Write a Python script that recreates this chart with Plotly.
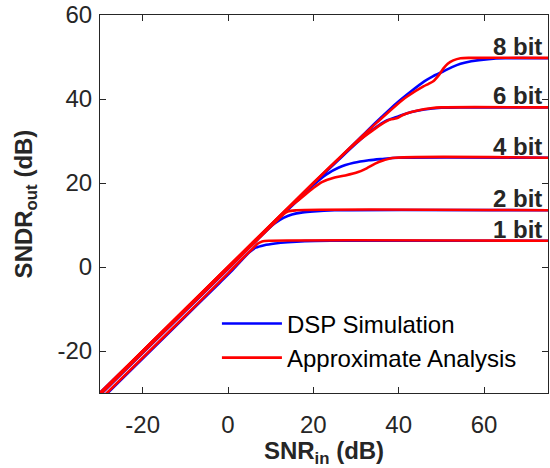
import plotly.graph_objects as go

# ---------------- data ----------------
dsp_1bit_x = [-30, -10, -2, 1, 3, 5, 6.5, 8.5, 11, 14, 18, 24, 75]
dsp_1bit_y = [-31.8, -11.8, -3.8, -0.8, 1.4, 3.5, 4.6, 5.2, 5.6, 5.9, 6.15, 6.26, 6.26]
apx_1bit_x = [-30, -10, 0, 3, 5, 6, 7, 8, 10, 75]
apx_1bit_y = [-31.6, -11.6, -1.5, 1.6, 3.6, 4.6, 5.6, 6.1, 6.26, 6.26]

dsp_2bit_x = [-30, -10, 0, 5, 7, 9, 11, 13, 15, 17.5, 20, 25, 75]
dsp_2bit_y = [-30.5, -10.5, -0.5, 4.6, 6.6, 8.6, 10.4, 11.7, 12.5, 13.0, 13.25, 13.5, 13.5]
apx_2bit_x = [-30, -10, 0, 5, 9, 11, 12.5, 14, 16, 75]
apx_2bit_y = [-30.4, -10.4, -0.4, 4.6, 8.6, 10.6, 12.1, 13.2, 13.5, 13.5]

dsp_4bit_x = [-30, 0, 10, 14, 17, 20, 23, 26, 29.5, 33, 36, 40, 75]
dsp_4bit_y = [-30, -0.2, 9.8, 13.6, 16.5, 19.5, 22.0, 23.7, 24.8, 25.4, 25.7, 26.0, 26.0]
apx_4bit_x = [-30, 0, 10, 14, 17, 20, 22, 25, 27.5, 30.5, 32.5, 34.5, 36.5, 38.5, 75]
apx_4bit_y = [-30, 0, 10, 13.9, 16.3, 18.8, 20.2, 21.3, 21.8, 22.6, 23.5, 24.6, 25.4, 25.95, 26.0]

dsp_6bit_x = [-30, 0, 20, 26, 30, 32.5, 34, 37, 40, 43, 46, 50, 55, 75]
dsp_6bit_y = [-30, -0.2, 19.8, 25.6, 29.4, 31.6, 32.8, 34.8, 35.9, 36.9, 37.5, 37.9, 38.0, 38.0]
apx_6bit_x = [-30, 0, 20, 26, 30, 32.5, 34, 36, 38, 39.5, 41, 43, 45, 47.5, 50, 75]
apx_6bit_y = [-30, 0, 20, 25.8, 29.5, 31.5, 32.6, 34.0, 35.1, 35.4, 36.2, 36.9, 37.4, 37.8, 38.0, 38.0]

dsp_8bit_x = [-30, 0, 20, 30, 32.5, 36, 39.5, 43, 46, 48, 50.5, 52.5, 54.5, 57, 61, 65, 75]
dsp_8bit_y = [-30, -0.2, 19.8, 29.8, 32.3, 35.7, 39.0, 41.9, 44.2, 45.4, 46.6, 47.6, 48.4, 49.0, 49.5, 49.7, 49.7]
apx_8bit_x = [-30, 0, 20, 30, 35, 39.5, 42, 45.8, 47, 48.2, 49.5, 50.5, 51.5, 52.8, 54.5, 57, 75]
apx_8bit_y = [-30, 0, 20, 29.8, 34.5, 38.6, 40.6, 43.0, 43.6, 44.3, 45.8, 47.3, 48.4, 49.2, 49.7, 49.8, 49.8]

bit_labels = ["1 bit", "2 bit", "4 bit", "6 bit", "8 bit"]
bit_levels = [6.26, 13.5, 26.0, 38.0, 49.7]

x_ticks = [-20, 0, 20, 40, 60]
x_tick_text = ["-20", "0", "20", "40", "60"]
y_ticks = [-20, 0, 20, 40, 60]
y_tick_text = ["-20", "0", "20", "40", "60"]

dsp_series = [(dsp_1bit_x, dsp_1bit_y), (dsp_2bit_x, dsp_2bit_y), (dsp_4bit_x, dsp_4bit_y),
              (dsp_6bit_x, dsp_6bit_y), (dsp_8bit_x, dsp_8bit_y)]
apx_series = [(apx_1bit_x, apx_1bit_y), (apx_2bit_x, apx_2bit_y), (apx_4bit_x, apx_4bit_y),
              (apx_6bit_x, apx_6bit_y), (apx_8bit_x, apx_8bit_y)]

TXT = "#262626"
FONT = "Liberation Sans, Arial, sans-serif"
FS = 24

fig = go.Figure()
for i, (xs, ys) in enumerate(dsp_series):
    fig.add_trace(go.Scatter(x=xs, y=ys, mode="lines", name="DSP Simulation",
                             legendgroup="dsp", showlegend=(i == 0),
                             line=dict(color="#0000FF", width=2.6, shape="spline", smoothing=0.8)))
for i, (xs, ys) in enumerate(apx_series):
    fig.add_trace(go.Scatter(x=xs, y=ys, mode="lines", name="Approximate Analysis",
                             legendgroup="apx", showlegend=(i == 0),
                             line=dict(color="#FF0000", width=2.6, shape="spline", smoothing=0.8)))

for lab, lev in zip(bit_labels, bit_levels):
    fig.add_annotation(x=74, y=lev, text="<b>%s</b>" % lab, showarrow=False,
                       xanchor="right", yanchor="bottom", yshift=-4,
                       font=dict(size=FS, color=TXT, family=FONT))

axis_common = dict(showgrid=False, zeroline=False, showline=True, linecolor=TXT, linewidth=1,
                   mirror="ticks", ticks="inside", ticklen=6, tickcolor=TXT,
                   tickfont=dict(size=FS, color=TXT, family=FONT))

fig.update_xaxes(range=[-30, 75], tickvals=x_ticks, ticktext=x_tick_text, ticklabelstandoff=10,
                 title=dict(text="<b>SNR<sub>in</sub> (dB)</b>", font=dict(size=FS, color=TXT, family=FONT), standoff=2),
                 **axis_common)
fig.update_yaxes(range=[-30, 60], tickvals=y_ticks, ticktext=y_tick_text, ticklabelstandoff=2,
                 title=dict(text="<b>SNDR<sub>out</sub> (dB)</b>", font=dict(size=FS, color=TXT, family=FONT), standoff=18),
                 **axis_common)

fig.update_layout(
    width=550, height=468,
    margin=dict(l=100, r=2, t=15, b=75),
    plot_bgcolor="white", paper_bgcolor="white",
    showlegend=True,
    legend=dict(x=0.261, y=0.138, xanchor="left", yanchor="middle",
                bgcolor="rgba(0,0,0,0)", font=dict(size=FS, color="#000000", family=FONT),
                tracegroupgap=0, itemwidth=60),
)

fig.write_html("out.html", config={"displayModeBar": False},
               post_script="document.body.style.margin='0px';")
